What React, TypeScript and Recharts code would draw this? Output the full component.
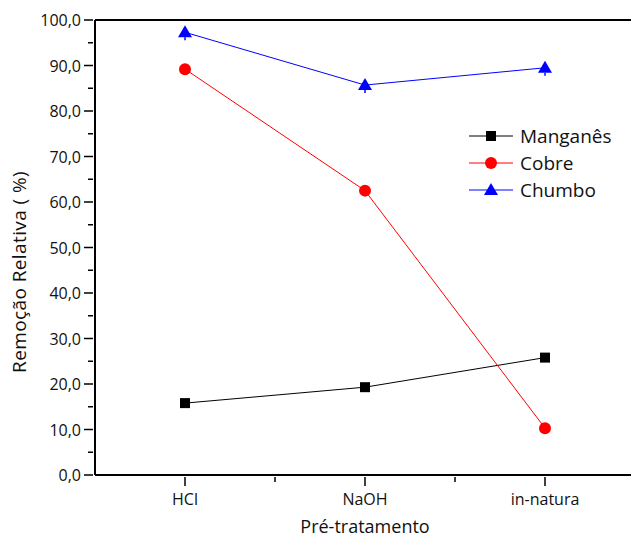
import React from 'react';
import { LineChart, Line, XAxis, YAxis, ReferenceLine, Label } from 'recharts';

const categories = ['HCl', 'NaOH', 'in-natura'];
const manganes = [15.8, 19.3, 25.8];
const cobre = [89.2, 62.5, 10.3];
const chumbo = [97.3, 85.7, 89.5];

const yTicks = [0, 5, 10, 15, 20, 25, 30, 35, 40, 45, 50, 55, 60, 65, 70, 75, 80, 85, 90, 95, 100];
const xTicks = [1, 1.5, 2, 2.5, 3];

const data = categories.map((name, i) => ({
  x: i + 1,
  name,
  mn: manganes[i],
  cu: cobre[i],
  pb: chumbo[i],
}));

const FONT = '"Open Sans", sans-serif';

const YTick = (props: any) => {
  const { x, y, payload } = props;
  const major = payload.value % 10 === 0;
  return (
    <g>
      <line x1={x - (major ? 9 : 5)} x2={x} y1={y} y2={y} stroke="#000" strokeWidth={1.5} />
      {major && (
        <text x={x - 12} y={y} textAnchor="end" dominantBaseline="central" fontSize={16} fontFamily={FONT} fill="#111">
          {payload.value.toFixed(1).replace('.', ',')}
        </text>
      )}
    </g>
  );
};

const XTick = (props: any) => {
  const { x, y, payload } = props;
  const major = Number.isInteger(payload.value);
  return (
    <g>
      <line x1={x} x2={x} y1={y} y2={y + (major ? 9 : 5)} stroke="#000" strokeWidth={1.5} />
      {major && (
        <text x={x} y={y + 22} textAnchor="middle" dominantBaseline="central" fontSize={16} fontFamily={FONT} fill="#111">
          {categories[payload.value - 1]}
        </text>
      )}
    </g>
  );
};

const Square = (props: any) => {
  const { cx, cy } = props;
  return <rect x={cx - 5} y={cy - 5} width={10} height={10} fill="#000" />;
};

const Circle = (props: any) => {
  const { cx, cy } = props;
  return <circle cx={cx} cy={cy} r={6} fill="#ff0000" />;
};

const Triangle = (props: any) => {
  const { cx, cy } = props;
  return (
    <g>
      <path d={`M${cx},${cy - 7} L${cx + 7},${cy + 5} L${cx - 7},${cy + 5} Z`} fill="#0000ff" />
      <line x1={cx} x2={cx} y1={cy + 5} y2={cy + 8} stroke="#0000ff" strokeWidth={1.5} />
    </g>
  );
};

const legendItems = [
  { label: 'Manganês', color: '#000', shape: 'square' },
  { label: 'Cobre', color: '#ff0000', shape: 'circle' },
  { label: 'Chumbo', color: '#0000ff', shape: 'triangle' },
];

const LegendBox = () => (
  <div style={{ position: 'absolute', left: 469, top: 122, fontFamily: FONT, fontSize: 19, color: '#111' }}>
    {legendItems.map((it) => (
      <div key={it.label} style={{ display: 'flex', alignItems: 'center', height: 27 }}>
        <svg width={50} height={16}>
          <line x1={0} x2={44} y1={8} y2={8} stroke={it.color} strokeWidth={1} />
          {it.shape === 'square' && <rect x={17} y={3} width={10} height={10} fill={it.color} />}
          {it.shape === 'circle' && <circle cx={22} cy={8} r={6} fill={it.color} />}
          {it.shape === 'triangle' && <path d="M22,1 L29,13 L15,13 Z" fill={it.color} />}
        </svg>
        <span style={{ marginLeft: 1 }}>{it.label}</span>
      </div>
    ))}
  </div>
);

export default function App() {
  return (
    <div style={{ position: 'absolute', left: 0, top: 0, width: 631, height: 538, overflow: 'hidden', background: '#fff' }}>
      <LineChart width={640} height={538} data={data} margin={{ top: 20, right: 5, left: 0, bottom: 0 }}>
        <XAxis
          dataKey="x"
          type="number"
          domain={[0.5, 3.5]}
          ticks={xTicks}
          interval={0}
          tick={<XTick />}
          tickLine={false}
          tickSize={0}
          height={63}
          axisLine={{ stroke: '#000', strokeWidth: 2 }}
        >
          <Label
            content={() => (
              <text x={365} y={526} textAnchor="middle" dominantBaseline="central" fontSize={18} fontFamily={FONT} fill="#111">
                Pré-tratamento
              </text>
            )}
          />
        </XAxis>
        <YAxis
          type="number"
          domain={[0, 100]}
          ticks={yTicks}
          interval={0}
          tick={<YTick />}
          tickLine={false}
          tickSize={0}
          width={95}
          axisLine={{ stroke: '#000', strokeWidth: 2 }}
        >
          <Label
            content={() => (
              <text
                x={19}
                y={272}
                transform="rotate(-90, 19, 272)"
                textAnchor="middle"
                dominantBaseline="central"
                fontSize={19}
                letterSpacing={0.4}
                fontFamily={FONT}
                fill="#111"
              >
                Remoção Relativa (  %)
              </text>
            )}
          />
        </YAxis>
        <ReferenceLine y={100} stroke="#000" strokeWidth={2} />
        <Line dataKey="mn" name="Manganês" stroke="#000" strokeWidth={1} dot={<Square />} isAnimationActive={false} />
        <Line dataKey="cu" name="Cobre" stroke="#ff0000" strokeWidth={1} dot={<Circle />} isAnimationActive={false} />
        <Line dataKey="pb" name="Chumbo" stroke="#0000ff" strokeWidth={1} dot={<Triangle />} isAnimationActive={false} />
      </LineChart>
      <LegendBox />
    </div>
  );
}
